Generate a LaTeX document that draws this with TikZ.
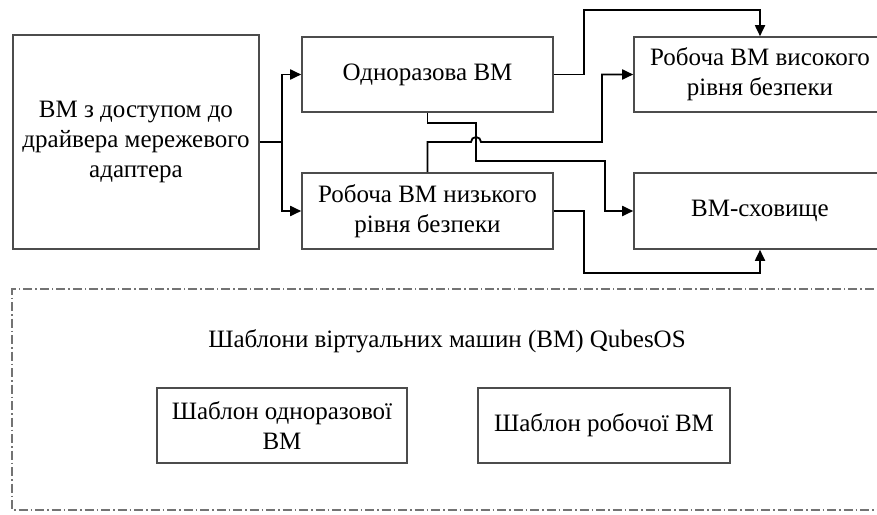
\documentclass[tikz,border=0pt]{standalone}
\usepackage{fontspec}
\setmainfont{Liberation Serif}
\usetikzlibrary{arrows.meta}
\begin{document}
\begin{tikzpicture}[
		x=1pt,y=-1pt,
		every node/.style={font=\fontsize{25}{30}\selectfont, align=center},
		box/.style={draw=black!70, line width=1.6pt, inner sep=0pt},
		conn/.style={line width=1.8pt, -{Triangle[length=11pt,width=10pt]}},
		frame/.style={draw=black!55, line width=1.5pt, dash pattern=on 9pt off 3pt on 1.5pt off 3pt},
	]
	\clip (0,0) rectangle (877,514);

	\node[box, minimum width=246, minimum height=214] (vmnet) at (136,142) {ВМ з доступом до\\драйвера мережевого\\адаптера};
	\node[box, minimum width=251, minimum height=75] (disp) at (427.5,74.5) {Одноразова ВМ};
	\node[box, minimum width=251, minimum height=76] (low) at (427.5,211) {Робоча ВМ низького\\рівня безпеки};
	\node[box, minimum width=252, minimum height=75] (high) at (760,74.5) {Робоча ВМ високого\\рівня безпеки};
	\node[box, minimum width=252, minimum height=76] (store) at (760,211) {ВМ-сховище};

	\coordinate (split) at (282,142);
	\coordinate (upper) at (584,10);
	\coordinate (lower) at (584,273);
	\coordinate (d1) at (476,123);
	\coordinate (d2) at (605,161);
	\coordinate (u1) at (471,142);
	\coordinate (u2) at (602,142);

	\draw[conn] (vmnet.east) -- (split) |- (disp.west);
	\draw[conn] (split) |- (low.west);
	\draw[conn] (disp.east) -| (upper) -| (high.north);
	\draw[conn] (low.east) -| (lower) -| (store.south);
	\draw[conn] (disp.south) |- (d1) |- (d2) |- (store.west);
	\draw[conn] (low.north) |- (u1) arc[start angle=180,end angle=0,radius=5pt] -- (u2) |- (high.west);

	\draw[frame] (890,289) -- (12,289) -- (12,510) -- (890,510);
	\node (tpltitle) at (447,341) {Шаблони віртуальних машин (ВМ) QubesOS};
	\node[box, minimum width=250, minimum height=75] (tpldisp) at (282,425.5) {Шаблон одноразової\\ВМ};
	\node[box, minimum width=252, minimum height=75] (tplwork) at (604,425.5) {Шаблон робочої ВМ};
\end{tikzpicture}
\end{document}
